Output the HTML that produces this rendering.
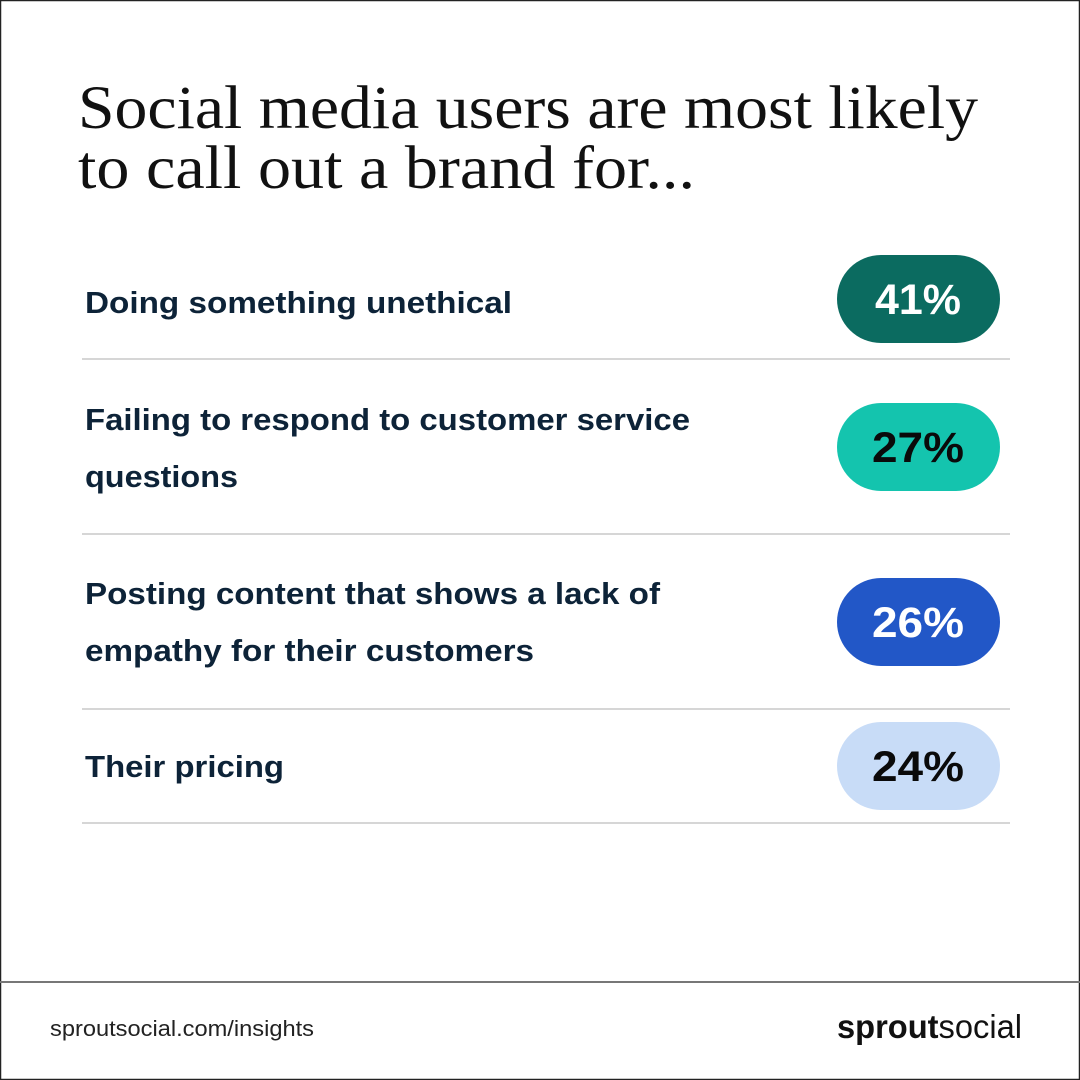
<!DOCTYPE html>
<html><head><meta charset="utf-8"><style>
html,body{margin:0;padding:0;background:#fff}
svg{display:block}
</style></head><body>
<svg width="1080" height="1080" viewBox="0 0 1080 1080" xmlns="http://www.w3.org/2000/svg">
<rect x="0.5" y="0.5" width="1079" height="1079" fill="#fff" stroke="#222" stroke-width="1.5"/>
<g font-family="Liberation Serif, serif" font-size="61" fill="#111">
<text x="78" y="128" textLength="900" lengthAdjust="spacingAndGlyphs">Social media users are most likely</text>
<text x="78" y="188" textLength="617" lengthAdjust="spacingAndGlyphs">to call out a brand for...</text>
</g>
<g font-family="Liberation Sans, sans-serif" font-weight="bold" font-size="31" fill="#0d2338">
<text x="85" y="313" textLength="427" lengthAdjust="spacingAndGlyphs">Doing something unethical</text>
<text x="85" y="430" textLength="605" lengthAdjust="spacingAndGlyphs">Failing to respond to customer service</text>
<text x="85" y="487" textLength="153" lengthAdjust="spacingAndGlyphs">questions</text>
<text x="85" y="604" textLength="575" lengthAdjust="spacingAndGlyphs">Posting content that shows a lack of</text>
<text x="85" y="661" textLength="449" lengthAdjust="spacingAndGlyphs">empathy for their customers</text>
<text x="85" y="777" textLength="199" lengthAdjust="spacingAndGlyphs">Their pricing</text>
</g>
<g stroke="#c8c8c8" stroke-width="1.5">
<line x1="82" y1="359" x2="1010" y2="359"/>
<line x1="82" y1="534" x2="1010" y2="534"/>
<line x1="82" y1="709" x2="1010" y2="709"/>
<line x1="82" y1="823" x2="1010" y2="823"/>
</g>
<rect x="837" y="255" width="163" height="88" rx="44" fill="#0b6b60"/>
<rect x="837" y="403" width="163" height="88" rx="44" fill="#14c4ae"/>
<rect x="837" y="578" width="163" height="88" rx="44" fill="#2257c7"/>
<rect x="837" y="722" width="163" height="88" rx="44" fill="#c8dcf7"/>
<g font-family="Liberation Sans, sans-serif" font-weight="bold" font-size="43" text-anchor="middle">
<text x="918" y="314" fill="#fff" textLength="86" lengthAdjust="spacingAndGlyphs">41%</text>
<text x="918" y="462" fill="#0a0a0a" textLength="92" lengthAdjust="spacingAndGlyphs">27%</text>
<text x="918" y="637" fill="#fff" textLength="92" lengthAdjust="spacingAndGlyphs">26%</text>
<text x="918" y="781" fill="#0a0a0a" textLength="92" lengthAdjust="spacingAndGlyphs">24%</text>
</g>
<line x1="0" y1="982" x2="1080" y2="982" stroke="#777" stroke-width="2"/>
<text x="50" y="1036" font-family="Liberation Sans, sans-serif" font-size="22" fill="#222" textLength="264" lengthAdjust="spacingAndGlyphs">sproutsocial.com/insights</text>
<text x="837" y="1038" font-family="Liberation Sans, sans-serif" font-size="33" fill="#111" textLength="185" lengthAdjust="spacingAndGlyphs"><tspan font-weight="bold">sprout</tspan><tspan>social</tspan></text>
</svg>
</body></html>
